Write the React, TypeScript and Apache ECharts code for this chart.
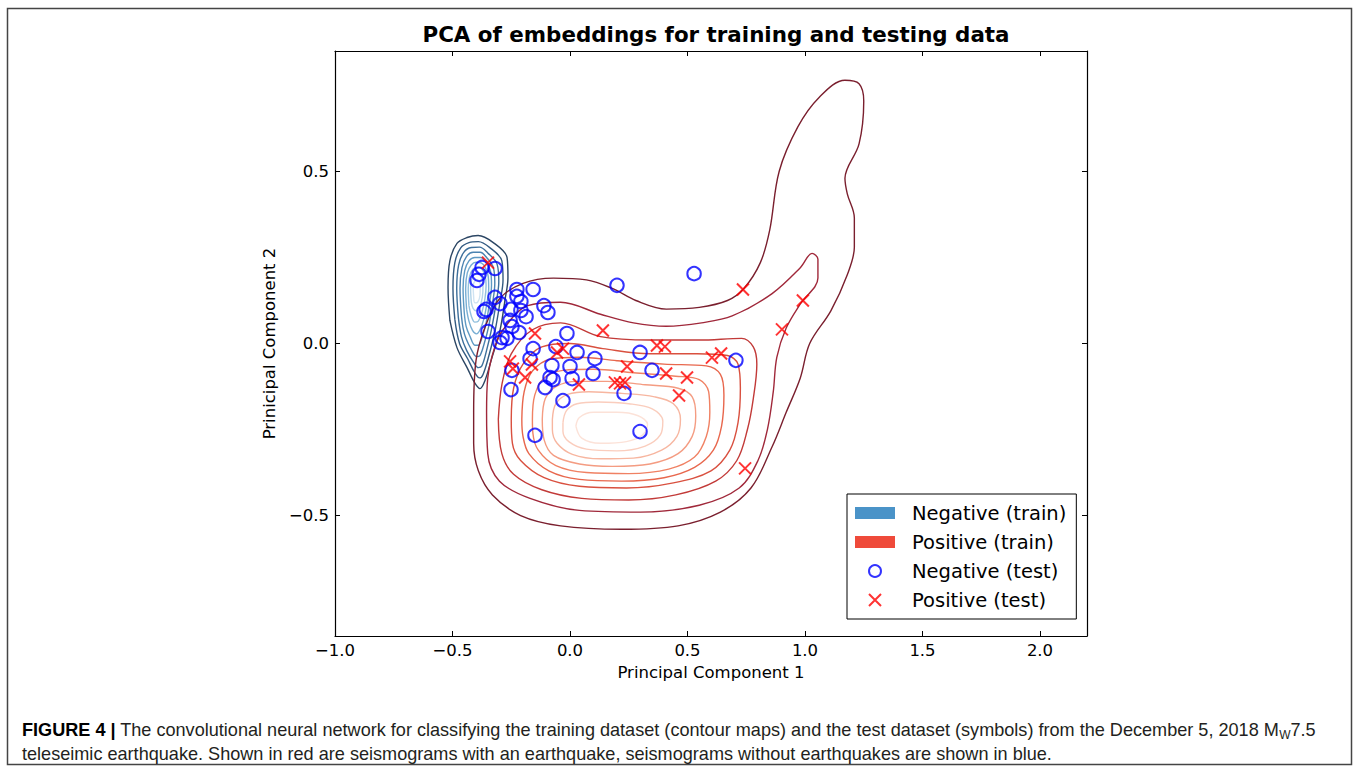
import React, { useEffect, useRef } from 'react';
import * as echarts from 'echarts';

const W = 1359;
const H = 767;

const xTickValues = [-1.0, -0.5, 0.0, 0.5, 1.0, 1.5, 2.0];
const yTickValues = [-0.5, 0.0, 0.5];

// Test points (symbols)
const negativeTest: number[][] = [
  [-0.374, 0.221], [-0.319, 0.218], [-0.387, 0.201], [-0.396, 0.183],
  [-0.226, 0.157], [-0.157, 0.157], [-0.226, 0.137], [-0.319, 0.134], [-0.298, 0.116],
  [-0.357, 0.099], [-0.366, 0.093],
  [-0.209, 0.122], [-0.111, 0.11], [-0.094, 0.09], [-0.251, 0.099], [-0.209, 0.096], [-0.187, 0.078],
  [-0.349, 0.035], [-0.255, 0.067], [-0.247, 0.049], [-0.217, 0.032], [-0.289, 0.017], [-0.268, 0.015], [-0.298, 0.003],
  [-0.013, 0.029], [-0.157, -0.015], [-0.17, -0.044], [-0.06, -0.009], [0.03, -0.026], [0.106, -0.044], [0.098, -0.087],
  [-0.077, -0.064], [0.0, -0.067], [-0.247, -0.078], [-0.251, -0.134], [-0.085, -0.099], [-0.106, -0.128], [-0.072, -0.105], [0.009, -0.102],
  [-0.03, -0.166], [-0.149, -0.267], [0.2, 0.169], [0.528, 0.203], [0.298, -0.026], [0.349, -0.078], [0.23, -0.145], [0.298, -0.256], [0.706, -0.049],
];

const positiveTest: number[][] = [
  [-0.349, 0.235], [-0.149, 0.029], [0.14, 0.038], [-0.055, -0.026], [-0.03, -0.015],
  [-0.255, -0.052], [-0.243, -0.073], [-0.162, -0.061], [-0.191, -0.099], [0.038, -0.119],
  [0.191, -0.113], [0.213, -0.116], [0.234, -0.113], [0.243, -0.067], [0.37, -0.006],
  [0.404, -0.009], [0.409, -0.087], [0.498, -0.099], [0.464, -0.151], [0.604, -0.041],
  [0.643, -0.029], [0.736, 0.157], [0.902, 0.041], [0.991, 0.125], [0.745, -0.363],
];

// Positive (train) density contours, outer to inner
const redLevel1 = [
  [-0.41, -0.2], [-0.40, -0.05], [-0.36, 0.05], [-0.30, 0.13], [-0.20, 0.175], [-0.07, 0.19], [0.07, 0.185],
  [0.18, 0.16], [0.28, 0.125], [0.41, 0.1], [0.55, 0.105], [0.67, 0.125], [0.74, 0.16], [0.81, 0.235],
  [0.85, 0.33], [0.89, 0.5], [0.97, 0.63], [1.06, 0.715], [1.17, 0.765], [1.23, 0.755], [1.25, 0.705],
  [1.23, 0.58], [1.17, 0.48], [1.18, 0.435], [1.21, 0.365], [1.21, 0.28], [1.18, 0.2], [1.11, 0.095],
  [1.02, 0.0], [0.98, -0.1], [0.92, -0.2], [0.86, -0.3], [0.77, -0.42], [0.64, -0.49], [0.46, -0.53],
  [0.22, -0.54], [-0.04, -0.53], [-0.21, -0.5], [-0.33, -0.44], [-0.39, -0.37], [-0.41, -0.29], [-0.41, -0.2],
];
const redLevel2 = [
  [-0.355, -0.2], [-0.35, -0.1], [-0.32, -0.01], [-0.285, 0.04], [-0.18, 0.11], [-0.04, 0.12], [0.13, 0.085],
  [0.27, 0.06], [0.41, 0.05], [0.56, 0.06], [0.69, 0.08], [0.86, 0.145], [0.98, 0.22], [1.03, 0.262],
  [1.055, 0.245], [1.055, 0.19], [0.98, 0.115], [0.92, 0.045], [0.88, -0.04], [0.865, -0.14], [0.84, -0.25],
  [0.8, -0.34], [0.72, -0.42], [0.55, -0.47], [0.3, -0.49], [0.04, -0.485], [-0.17, -0.45], [-0.3, -0.4],
  [-0.35, -0.32], [-0.355, -0.2],
];
const redLevel3 = [
  [-0.305, -0.22], [-0.29, -0.12], [-0.25, -0.03], [-0.16, 0.04], [-0.04, 0.06], [0.13, 0.02], [0.34, 0.01],
  [0.55, 0.01], [0.73, 0.015], [0.78, -0.01], [0.795, -0.06], [0.78, -0.16], [0.755, -0.25], [0.71, -0.34],
  [0.62, -0.4], [0.45, -0.44], [0.25, -0.455], [0.05, -0.45], [-0.12, -0.425], [-0.24, -0.38], [-0.29, -0.32],
  [-0.305, -0.22],
];
const redLevel4 = [
  [-0.25, -0.22], [-0.24, -0.13], [-0.2, -0.06], [-0.12, -0.01], [0.0, 0.0], [0.14, -0.015], [0.34, -0.03],
  [0.54, -0.03], [0.67, -0.035], [0.715, -0.06], [0.725, -0.13], [0.715, -0.23], [0.68, -0.31], [0.6, -0.37],
  [0.44, -0.405], [0.24, -0.42], [0.04, -0.415], [-0.11, -0.39], [-0.21, -0.34], [-0.245, -0.29], [-0.25, -0.22],
];
const redLevel5 = [
  [-0.205, -0.22], [-0.195, -0.14], [-0.16, -0.08], [-0.08, -0.045], [0.04, -0.04], [0.2, -0.05], [0.4, -0.06],
  [0.58, -0.065], [0.64, -0.09], [0.655, -0.15], [0.645, -0.24], [0.61, -0.31], [0.53, -0.36], [0.4, -0.39],
  [0.22, -0.4], [0.04, -0.395], [-0.09, -0.37], [-0.175, -0.32], [-0.2, -0.27], [-0.205, -0.22],
];
const redLevel6 = [
  [-0.16, -0.22], [-0.15, -0.15], [-0.11, -0.1], [-0.03, -0.078], [0.1, -0.075], [0.27, -0.085], [0.45, -0.095],
  [0.55, -0.105], [0.59, -0.14], [0.595, -0.2], [0.58, -0.27], [0.53, -0.33], [0.42, -0.365], [0.25, -0.378],
  [0.07, -0.375], [-0.06, -0.355], [-0.135, -0.31], [-0.158, -0.26], [-0.16, -0.22],
];
const redLevel7 = [
  [-0.118, -0.22], [-0.105, -0.16], [-0.06, -0.125], [0.03, -0.11], [0.16, -0.11], [0.32, -0.12], [0.46, -0.13],
  [0.52, -0.155], [0.535, -0.21], [0.52, -0.27], [0.46, -0.32], [0.34, -0.35], [0.18, -0.357], [0.04, -0.35],
  [-0.07, -0.325], [-0.11, -0.28], [-0.118, -0.22],
];
const redLevel8 = [
  [-0.075, -0.22], [-0.06, -0.175], [-0.01, -0.148], [0.08, -0.14], [0.22, -0.145], [0.36, -0.155], [0.44, -0.175],
  [0.47, -0.22], [0.455, -0.27], [0.39, -0.31], [0.27, -0.333], [0.13, -0.335], [0.01, -0.322], [-0.055, -0.29],
  [-0.075, -0.25], [-0.075, -0.22],
];
const redLevel9 = [
  [-0.03, -0.23], [-0.015, -0.195], [0.03, -0.175], [0.12, -0.17], [0.25, -0.175], [0.35, -0.19], [0.395, -0.225],
  [0.385, -0.265], [0.32, -0.298], [0.2, -0.312], [0.07, -0.307], [-0.005, -0.285], [-0.03, -0.255], [-0.03, -0.23],
];
const redLevel10 = [
  [0.025, -0.24], [0.04, -0.215], [0.1, -0.2], [0.2, -0.2], [0.29, -0.21], [0.33, -0.235], [0.31, -0.265],
  [0.24, -0.285], [0.13, -0.29], [0.05, -0.275], [0.025, -0.24],
];

// Negative (train) density contours, outer to inner
const blueLevel1 = [
  [-0.511, 0.067], [-0.519, 0.163], [-0.511, 0.241], [-0.481, 0.291], [-0.438, 0.308], [-0.391, 0.314],
  [-0.328, 0.294], [-0.268, 0.25], [-0.264, 0.192], [-0.277, 0.125], [-0.298, 0.038], [-0.332, -0.041],
  [-0.362, -0.108], [-0.383, -0.131], [-0.404, -0.116], [-0.438, -0.07], [-0.481, -0.012], [-0.511, 0.067],
];
const blueLevel2 = [
  [-0.49, 0.07], [-0.498, 0.16], [-0.49, 0.235], [-0.465, 0.278], [-0.43, 0.293], [-0.39, 0.296], [-0.34, 0.278],
  [-0.29, 0.24], [-0.285, 0.185], [-0.298, 0.12], [-0.318, 0.04], [-0.345, -0.035], [-0.37, -0.09], [-0.385, -0.1],
  [-0.405, -0.085], [-0.435, -0.045], [-0.47, 0.0], [-0.49, 0.07],
];
const blueLevel3 = [
  [-0.475, 0.075], [-0.482, 0.16], [-0.474, 0.228], [-0.452, 0.265], [-0.42, 0.279], [-0.385, 0.28], [-0.35, 0.263],
  [-0.31, 0.23], [-0.303, 0.18], [-0.315, 0.115], [-0.333, 0.045], [-0.355, -0.02], [-0.375, -0.065], [-0.39, -0.07],
  [-0.41, -0.055], [-0.44, -0.02], [-0.462, 0.02], [-0.475, 0.075],
];
const blueLevel4 = [
  [-0.462, 0.08], [-0.468, 0.16], [-0.46, 0.22], [-0.44, 0.253], [-0.412, 0.265], [-0.382, 0.265], [-0.355, 0.25],
  [-0.326, 0.22], [-0.32, 0.175], [-0.33, 0.115], [-0.346, 0.05], [-0.365, 0.0], [-0.383, -0.035], [-0.398, -0.038],
  [-0.418, -0.02], [-0.443, 0.015], [-0.455, 0.045], [-0.462, 0.08],
];
const blueLevel5 = [
  [-0.45, 0.09], [-0.455, 0.16], [-0.448, 0.212], [-0.43, 0.24], [-0.405, 0.25], [-0.38, 0.25], [-0.358, 0.236],
  [-0.338, 0.21], [-0.334, 0.17], [-0.343, 0.115], [-0.357, 0.06], [-0.373, 0.02], [-0.39, -0.005], [-0.405, -0.005],
  [-0.425, 0.02], [-0.442, 0.05], [-0.45, 0.09],
];
const blueLevel6 = [
  [-0.44, 0.1], [-0.444, 0.16], [-0.437, 0.205], [-0.42, 0.228], [-0.4, 0.236], [-0.378, 0.234], [-0.36, 0.22],
  [-0.348, 0.195], [-0.346, 0.16], [-0.354, 0.115], [-0.367, 0.07], [-0.383, 0.04], [-0.398, 0.028], [-0.415, 0.038],
  [-0.43, 0.065], [-0.44, 0.1],
];
const blueLevel7 = [
  [-0.43, 0.11], [-0.433, 0.16], [-0.427, 0.196], [-0.413, 0.216], [-0.395, 0.222], [-0.377, 0.218], [-0.363, 0.2],
  [-0.357, 0.17], [-0.362, 0.13], [-0.375, 0.09], [-0.39, 0.065], [-0.405, 0.062], [-0.42, 0.08], [-0.43, 0.11],
];
const blueLevel8 = [
  [-0.42, 0.12], [-0.423, 0.16], [-0.417, 0.19], [-0.405, 0.203], [-0.39, 0.205], [-0.377, 0.195], [-0.37, 0.17],
  [-0.373, 0.135], [-0.385, 0.105], [-0.4, 0.095], [-0.413, 0.103], [-0.42, 0.12],
];
const blueLevel9 = [
  [-0.41, 0.135], [-0.412, 0.165], [-0.403, 0.183], [-0.39, 0.185], [-0.382, 0.17], [-0.383, 0.14], [-0.393, 0.12],
  [-0.405, 0.118], [-0.41, 0.135],
];

const redContours = [redLevel1, redLevel2, redLevel3, redLevel4, redLevel5, redLevel6, redLevel7, redLevel8, redLevel9, redLevel10];
const redColors = ['#7a1f2e', '#a0283a', '#c23a38', '#d9503f', '#e8674d', '#f08163', '#f49c82', '#f7b6a0', '#facdbd', '#fce2d8'];
const blueContours = [blueLevel1, blueLevel2, blueLevel3, blueLevel4, blueLevel5, blueLevel6, blueLevel7, blueLevel8, blueLevel9];
const blueColors = ['#2c4664', '#335b82', '#3d6f9b', '#4c84b1', '#5e99c3', '#78aed3', '#93c1de', '#b1d3e9', '#cfe3f2'];

const legendNames = ['Negative (train)', 'Positive (train)', 'Negative (test)', 'Positive (test)'];

const crossPath = 'path://M0,0L10,10M10,0L0,10';
const fmt = (v: number) => (v < 0 ? '\u2212' : '') + Math.abs(v).toFixed(1);

const captionLine1 =
  '{b|FIGURE 4 |} The convolutional neural network for classifying the training dataset (contour maps) and the test dataset (symbols) from the December 5, 2018 M{sub|W}7.5';
const captionLine2 =
  'teleseimic earthquake. Shown in red are seismograms with an earthquake, seismograms without earthquakes are shown in blue.';

export default function App() {
  const ref = useRef<HTMLDivElement>(null);
  useEffect(() => {
    document.body.style.margin = '0';
    const chart = echarts.init(ref.current!, null, { renderer: 'svg' });
    const tickFont = { fontFamily: 'DejaVu Sans', fontSize: 16.5, color: '#000' };
    const axisLine = { show: true, onZero: false, lineStyle: { color: '#000', width: 1.2 } };

    const contourSeries: any[] = [];
    blueContours.forEach((ring, i) => {
      contourSeries.push({
        type: 'line', name: legendNames[0], data: ring, symbol: 'none', showSymbol: false,
        smooth: 0.35, silent: true, z: 2, lineStyle: { color: blueColors[i], width: 1.4 },
      });
    });
    redContours.forEach((ring, i) => {
      contourSeries.push({
        type: 'line', name: legendNames[1], data: ring, symbol: 'none', showSymbol: false,
        smooth: 0.35, silent: true, z: 2, lineStyle: { color: redColors[i], width: 1.4 },
      });
    });

    chart.setOption({
      animation: false,
      backgroundColor: '#fff',
      grid: { left: 335, right: 272, top: 51, bottom: 131 },
      xAxis: [
        {
          type: 'value', min: -1.0, max: 2.2, position: 'bottom', axisLine, splitLine: { show: false },
          axisTick: { inside: true, length: 5, customValues: xTickValues, lineStyle: { color: '#000' } },
          axisLabel: { customValues: xTickValues, formatter: fmt, margin: 6, ...tickFont },
          name: 'Principal Component 1', nameLocation: 'middle', nameGap: 27,
          nameTextStyle: { fontFamily: 'DejaVu Sans', fontSize: 16.5, color: '#000' },
        },
        {
          type: 'value', min: -1.0, max: 2.2, position: 'top', axisLine, splitLine: { show: false },
          axisTick: { inside: true, length: 5, customValues: xTickValues, lineStyle: { color: '#000' } },
          axisLabel: { show: false },
        },
      ],
      yAxis: [
        {
          type: 'value', min: -0.85, max: 0.85, position: 'left', axisLine, splitLine: { show: false },
          axisTick: { inside: true, length: 5, customValues: yTickValues, lineStyle: { color: '#000' } },
          axisLabel: { customValues: yTickValues, formatter: fmt, margin: 6, ...tickFont },
          name: 'Prinicipal Component 2', nameLocation: 'middle', nameGap: 46, nameRotate: 90,
          nameTextStyle: { fontFamily: 'DejaVu Sans', fontSize: 16.5, color: '#000' },
        },
        {
          type: 'value', min: -0.85, max: 0.85, position: 'right', axisLine, splitLine: { show: false },
          axisTick: { inside: true, length: 5, customValues: yTickValues, lineStyle: { color: '#000' } },
          axisLabel: { show: false },
        },
      ],
      legend: {
        orient: 'vertical', left: 847, top: 494, padding: [9, 10, 9, 8], itemGap: 9,
        itemWidth: 40, itemHeight: 12, backgroundColor: '#fff', borderColor: '#000', borderWidth: 1,
        selectedMode: false,
        textStyle: { fontFamily: 'DejaVu Sans', fontSize: 19.5, color: '#000', padding: [0, 0, 0, 12] },
        data: [
          { name: legendNames[0], icon: 'rect', itemStyle: { color: '#4a93c8', borderWidth: 0 } },
          { name: legendNames[1], icon: 'rect', itemStyle: { color: '#ef4a3a', borderWidth: 0 } },
          { name: legendNames[2], icon: 'circle', itemStyle: { color: 'rgba(255,255,255,0)', borderColor: '#0000ff', borderWidth: 2 } },
          { name: legendNames[3], icon: crossPath, itemStyle: { color: 'none', borderColor: '#ff0000', borderWidth: 2 } },
        ],
      },
      graphic: [
        {
          type: 'rect', silent: true, z: -10,
          shape: { x: 7.5, y: 8.5, width: 1344, height: 756 },
          style: { fill: 'none', stroke: '#444', lineWidth: 1.5 },
        },
        {
          type: 'text', x: 716, y: 34,
          style: {
            text: 'PCA of embeddings for training and testing data', fontFamily: 'DejaVu Sans',
            fontWeight: 'bold', fontSize: 21.4, fill: '#000', align: 'center', verticalAlign: 'middle',
          },
        },
        {
          type: 'text', x: 22, y: 730,
          style: {
            text: captionLine1, fontFamily: 'Liberation Sans', fontSize: 18.1, fill: '#231f20',
            align: 'left', verticalAlign: 'middle',
            rich: {
              b: { fontFamily: 'Liberation Sans', fontWeight: 'bold', fontSize: 18.1, fill: '#000' },
              sub: { fontFamily: 'Liberation Sans', fontSize: 12, fill: '#231f20', padding: [10, 0, 0, 0] },
            },
          },
        },
        {
          type: 'text', x: 22, y: 754,
          style: {
            text: captionLine2, fontFamily: 'Liberation Sans', fontSize: 18.1, fill: '#231f20',
            align: 'left', verticalAlign: 'middle',
          },
        },
      ],
      series: [
        ...contourSeries,
        {
          type: 'scatter', name: legendNames[2], data: negativeTest, symbol: 'circle', symbolSize: 13.5, z: 4,
          itemStyle: { color: 'rgba(255,255,255,0)', borderColor: '#0000ff', borderWidth: 2 },
        },
        {
          type: 'scatter', name: legendNames[3], data: positiveTest, symbol: crossPath, symbolSize: 12, z: 5,
          itemStyle: { color: 'none', borderColor: '#ff0000', borderWidth: 2 },
        },
      ],
    });
    return () => chart.dispose();
  }, []);
  return <div ref={ref} style={{ width: W, height: H }} />;
}
